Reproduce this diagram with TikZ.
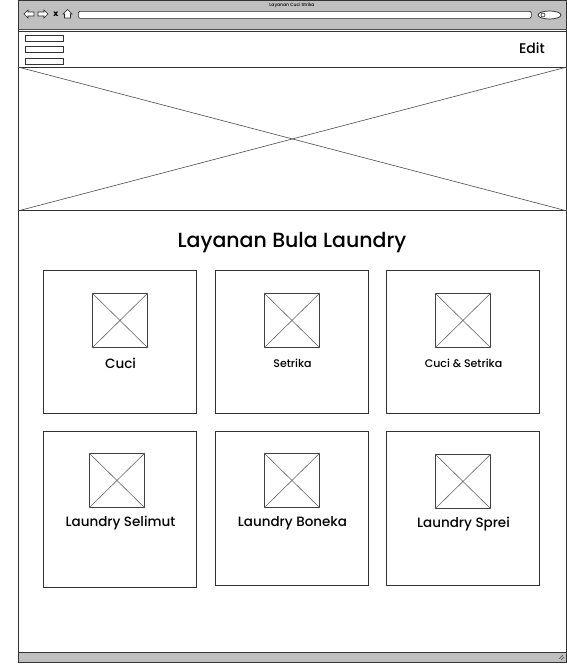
\documentclass[tikz,border=0pt]{standalone}
\usepackage{fontspec}
\setmainfont{Poppins}[UprightFont={* Medium}]
\usetikzlibrary{shapes.geometric}
\begin{document}
\begin{tikzpicture}[x=1pt, y=-1pt,
    frame/.style={draw=black!80, line width=0.9pt},
    cardbox/.style={draw=black!80, line width=0.8pt, anchor=north west, inner sep=0pt},
    imgbox/.style={draw=black!75, line width=0.9pt, anchor=north west, inner sep=0pt, minimum width=55pt, minimum height=54pt},
    cross/.style={draw=black!60, line width=0.6pt},
    barbox/.style={draw=black!80, line width=0.7pt, anchor=north west, inner sep=0pt, minimum width=38pt, minimum height=6pt},
    label/.style={text=black, inner sep=0pt}]
    \useasboundingbox (0,0) rectangle (567,664);
    % browser window
    \fill[white] (18,0) rectangle (566,662);
    \fill[black!25] (18,0) rectangle (566,30);
    \fill[black!25] (18,652) rectangle (566,662);
    \draw[black!70, line width=0.6pt] (18,29) -- (566,29);
    \draw[black!80, line width=0.8pt] (18,31) -- (566,31);
    \draw[black!80, line width=0.8pt] (18,652) -- (566,652);
    \draw[frame] (18,0) rectangle (566,662);
    \node[label, font=\fontsize{4.5}{5}\selectfont] (title) at (292,5) {Layanan Cuci Strika};
    % navigation icons
    \draw[black!85, fill=white, line width=0.7pt] (24,14) -- (28,10) -- (28,12) -- (34,12) -- (34,16) -- (28,16) -- (28,18) -- cycle;
    \draw[black!85, fill=white, line width=0.7pt] (48,14) -- (44,10) -- (44,12) -- (38,12) -- (38,16) -- (44,16) -- (44,18) -- cycle;
    \node[label, font=\bfseries\fontsize{8}{8}\selectfont] (stop) at (56,14) {x};
    \draw[black!85, fill=white, line width=0.7pt] (67.5,9.5) -- (72,14) -- (70.5,14) -- (70.5,18) -- (64.5,18) -- (64.5,14) -- (63,14) -- cycle;
    \node[draw=black!85, fill=white, line width=0.7pt, rounded corners=1.5pt, anchor=north west, inner sep=0pt, minimum width=453pt, minimum height=7pt] (url) at (78,11) {};
    \node[draw=black!85, fill=white, line width=0.7pt, ellipse, inner sep=0pt, minimum width=23pt, minimum height=8pt] (search) at (549.5,15) {};
    \draw[black!85, line width=0.6pt] (543,15) circle (2pt);
    % header
    \node[barbox] (bar1) at (25,35) {};
    \node[barbox] (bar2) at (25,46) {};
    \node[barbox] (bar3) at (25,58) {};
    \node[label, font=\fontsize{14}{16}\selectfont] (edit) at (532,48) {Edit};
    % hero picture
    \node[frame, anchor=north west, inner sep=0pt, minimum width=548pt, minimum height=143pt] (hero) at (18,67) {};
    \draw[cross, draw=black!70] (hero.north west) -- (hero.south east);
    \draw[cross, draw=black!70] (hero.south west) -- (hero.north east);
    \node[label, font=\fontsize{20.5}{24}\selectfont] (heading) at (292,243) {Layanan Bula Laundry};
    % service cards
    \foreach \cName/\cx/\cy/\ch/\ix/\iy/\cSize/\cText in {
        cuci/43/270/143/92/293/13.5/Cuci,
        setrika/215/270/143/264/293/11/Setrika,
        cucisetrika/386/270/143/435/293/11/Cuci \& Setrika,
        selimut/43/431/156/89/453/13.5/Laundry Selimut,
        boneka/215/431/154/264/453/13.5/Laundry Boneka,
        sprei/386/431/154/435/454/13.5/Laundry Sprei} {
        \node[cardbox, minimum width=153pt, minimum height=\ch pt] (\cName) at (\cx,\cy) {};
        \node[imgbox] (\cName img) at (\ix,\iy) {};
        \draw[cross] (\cName img.north west) -- (\cName img.south east);
        \draw[cross] (\cName img.south west) -- (\cName img.north east);
        \pgfmathsetmacro\cLabelX{\cx+77.5}
        \pgfmathsetmacro\cLabelY{\iy+70.5}
        \node[label, font=\fontsize{\cSize}{\cSize}\selectfont] (\cName text) at (\cLabelX,\cLabelY) {\cText};
    }
    % status bar
    \draw[black!70, line width=0.5pt] (559,659) -- (563,655) (561,660) -- (564,657);
\end{tikzpicture}
\end{document}
